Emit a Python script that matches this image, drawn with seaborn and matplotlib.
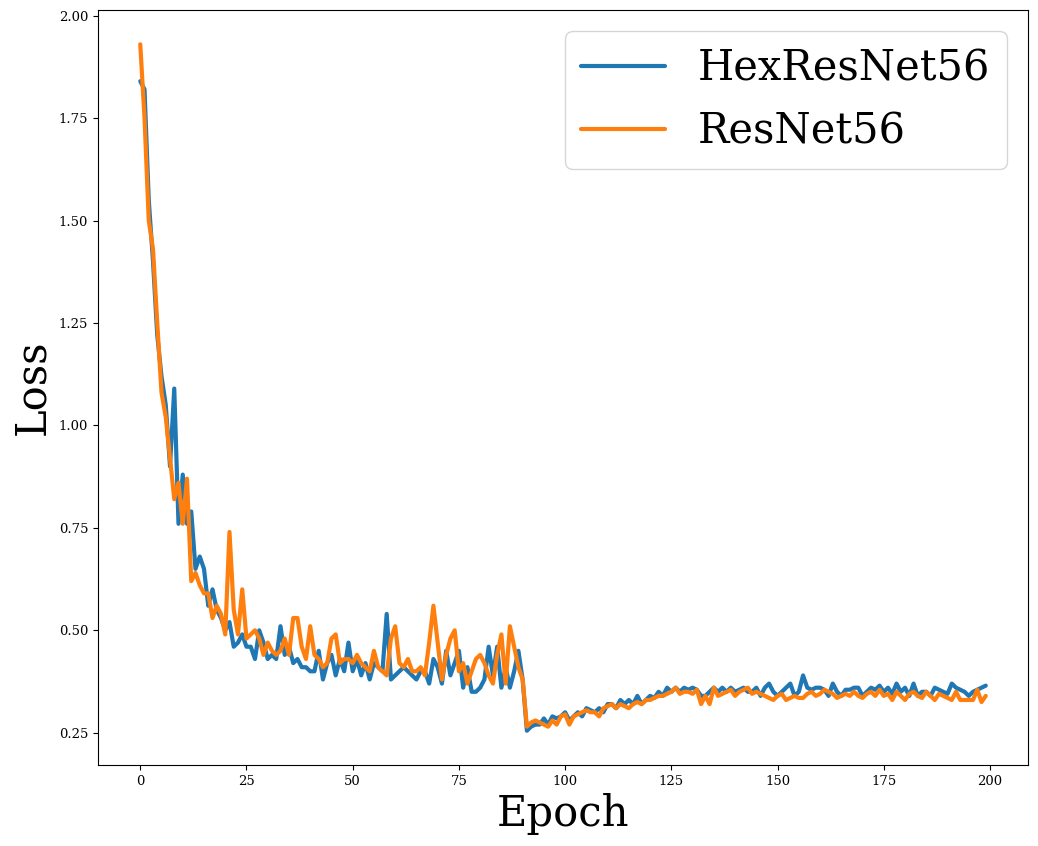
import numpy as np
import pandas as pd
import matplotlib
matplotlib.use("Agg")
import matplotlib.pyplot as plt
import seaborn as sns

hex_loss = [
    1.84, 1.82, 1.55, 1.40, 1.22, 1.12, 1.05, 0.90, 1.09, 0.76,
    0.88, 0.76, 0.79, 0.65, 0.68, 0.65, 0.56, 0.60, 0.55, 0.53,
    0.50, 0.52, 0.46, 0.47, 0.49, 0.46, 0.46, 0.43, 0.50, 0.47,
    0.43, 0.44, 0.43, 0.51, 0.44, 0.46, 0.42, 0.43, 0.41, 0.41,
    0.40, 0.40, 0.45, 0.38, 0.42, 0.44, 0.39, 0.43, 0.40, 0.47,
    0.40, 0.43, 0.39, 0.42, 0.38, 0.42, 0.41, 0.40, 0.54, 0.38,
    0.39, 0.40, 0.41, 0.40, 0.39, 0.38, 0.40, 0.40, 0.37, 0.43,
    0.41, 0.37, 0.45, 0.39, 0.42, 0.45, 0.36, 0.41, 0.35, 0.35,
    0.36, 0.38, 0.46, 0.39, 0.46, 0.36, 0.41, 0.36, 0.40, 0.45,
    0.38, 0.255, 0.265, 0.27, 0.27, 0.285, 0.27, 0.29, 0.285, 0.29,
    0.30, 0.28, 0.29, 0.30, 0.29, 0.31, 0.305, 0.30, 0.31, 0.30,
    0.32, 0.32, 0.31, 0.33, 0.32, 0.33, 0.32, 0.34, 0.32, 0.33,
    0.34, 0.335, 0.35, 0.34, 0.36, 0.35, 0.36, 0.35, 0.36, 0.355,
    0.36, 0.355, 0.34, 0.34, 0.35, 0.36, 0.35, 0.36, 0.35, 0.36,
    0.35, 0.355, 0.36, 0.35, 0.35, 0.36, 0.34, 0.36, 0.37, 0.35,
    0.34, 0.35, 0.36, 0.37, 0.34, 0.35, 0.39, 0.36, 0.355, 0.36,
    0.36, 0.355, 0.34, 0.37, 0.35, 0.34, 0.355, 0.355, 0.36, 0.36,
    0.34, 0.35, 0.36, 0.355, 0.365, 0.35, 0.36, 0.345, 0.37, 0.35,
    0.36, 0.34, 0.37, 0.34, 0.35, 0.35, 0.34, 0.36, 0.355, 0.35,
    0.345, 0.37, 0.36, 0.355, 0.35, 0.34, 0.35, 0.355, 0.36, 0.365,
]

res_loss = [
    1.93, 1.75, 1.50, 1.43, 1.25, 1.08, 1.02, 0.92, 0.82, 0.86,
    0.76, 0.87, 0.62, 0.64, 0.61, 0.59, 0.59, 0.53, 0.56, 0.54,
    0.49, 0.74, 0.55, 0.49, 0.60, 0.48, 0.49, 0.50, 0.48, 0.44,
    0.47, 0.45, 0.44, 0.45, 0.48, 0.44, 0.53, 0.53, 0.46, 0.43,
    0.51, 0.44, 0.43, 0.41, 0.42, 0.48, 0.49, 0.42, 0.43, 0.43,
    0.42, 0.44, 0.42, 0.41, 0.40, 0.45, 0.41, 0.40, 0.39, 0.48,
    0.51, 0.42, 0.41, 0.43, 0.40, 0.40, 0.41, 0.39, 0.47, 0.56,
    0.47, 0.38, 0.44, 0.48, 0.50, 0.40, 0.42, 0.37, 0.40, 0.43,
    0.44, 0.42, 0.39, 0.37, 0.44, 0.49, 0.37, 0.51, 0.46, 0.41,
    0.38, 0.265, 0.275, 0.28, 0.275, 0.27, 0.265, 0.28, 0.27, 0.29,
    0.295, 0.27, 0.29, 0.295, 0.30, 0.305, 0.30, 0.30, 0.29, 0.31,
    0.315, 0.32, 0.31, 0.32, 0.315, 0.31, 0.32, 0.325, 0.32, 0.33,
    0.33, 0.335, 0.34, 0.34, 0.345, 0.35, 0.36, 0.345, 0.35, 0.35,
    0.345, 0.355, 0.32, 0.34, 0.32, 0.36, 0.34, 0.345, 0.35, 0.355,
    0.34, 0.35, 0.355, 0.36, 0.345, 0.35, 0.345, 0.34, 0.335, 0.33,
    0.34, 0.345, 0.33, 0.335, 0.34, 0.335, 0.335, 0.345, 0.35, 0.34,
    0.345, 0.355, 0.35, 0.345, 0.335, 0.34, 0.345, 0.34, 0.35, 0.34,
    0.335, 0.345, 0.35, 0.34, 0.355, 0.34, 0.345, 0.33, 0.35, 0.34,
    0.33, 0.345, 0.35, 0.34, 0.335, 0.35, 0.34, 0.33, 0.345, 0.34,
    0.335, 0.33, 0.35, 0.33, 0.33, 0.33, 0.33, 0.355, 0.325, 0.34,
]

series_names = ["HexResNet56", "ResNet56"]
epochs = list(range(len(hex_loss)))

df = pd.DataFrame({
    "Epoch": epochs * 2,
    "Loss": hex_loss + res_loss,
    "Model": [series_names[0]] * len(hex_loss) + [series_names[1]] * len(res_loss),
})

sns.set_style("ticks")
plt.rcParams["font.family"] = ["DejaVu Serif"]
plt.rcParams["text.color"] = "black"
plt.rcParams["axes.labelcolor"] = "black"
plt.rcParams["xtick.color"] = "black"
plt.rcParams["ytick.color"] = "black"
plt.rcParams["axes.edgecolor"] = "black"

fig = plt.figure(figsize=(10.38, 8.46), dpi=100)
ax = fig.add_axes([0.0944, 0.0957, 0.896, 0.8925])

sns.lineplot(data=df, x="Epoch", y="Loss", hue="Model", hue_order=series_names,
             palette=["#1f77b4", "#ff7f0e"], linewidth=3, ax=ax)

ax.set_xticks([0, 25, 50, 75, 100, 125, 150, 175, 200])
ax.set_yticks([0.25, 0.50, 0.75, 1.00, 1.25, 1.50, 1.75, 2.00])
ax.set_yticklabels(["0.25", "0.50", "0.75", "1.00", "1.25", "1.50", "1.75", "2.00"])
ax.tick_params(labelsize=9.5, colors="black")
ax.set_xlabel("Epoch", fontsize=30, color="black")
ax.set_ylabel("Loss", fontsize=30, color="black")
for s in ax.spines.values():
    s.set_visible(True)
    s.set_color("black")

leg = ax.legend(loc="upper right", fontsize=30, title=None, frameon=True)
for line in leg.get_lines():
    line.set_linewidth(3)
for t in leg.get_texts():
    t.set_color("black")

fig.savefig("out.png", dpi=100)
